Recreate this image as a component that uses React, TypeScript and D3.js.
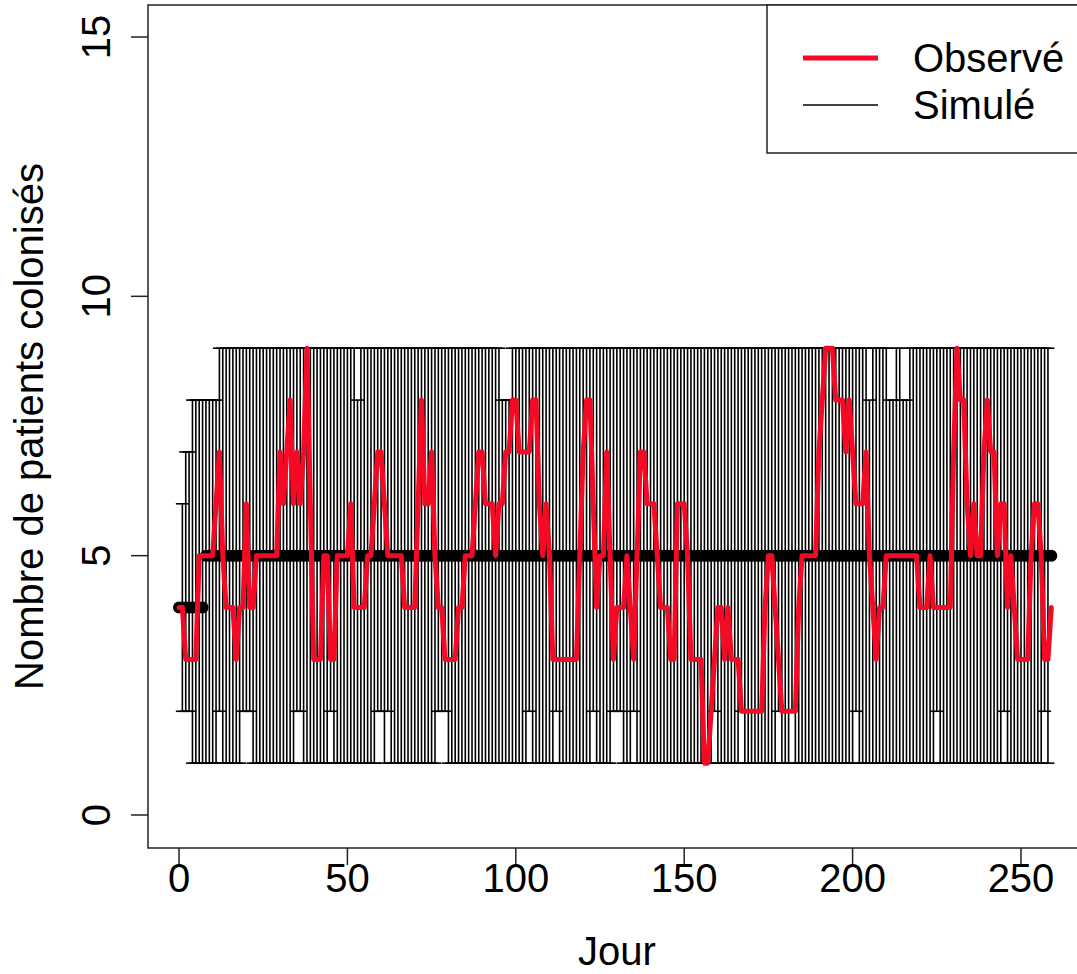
import React from "react";
import * as d3 from "d3";

// ---- Data ----
const days: number[] = d3.range(0, 260);

const observed: number[] = [
  4, 4, 3, 3, 3, 3, 5, 5, 5, 5,
  5, 6, 7, 5, 4, 4, 4, 3, 4, 4,
  6, 4, 4, 5, 5, 5, 5, 5, 5, 5,
  7, 6, 7, 8, 6, 7, 6, 7, 9, 6,
  3, 3, 3, 5, 5, 3, 3, 5, 5, 5,
  5, 6, 4, 4, 4, 4, 5, 5, 6, 7,
  7, 6, 5, 5, 5, 5, 5, 4, 4, 4,
  4, 6, 8, 6, 6, 7, 5, 4, 4, 3,
  3, 3, 3, 4, 4, 5, 5, 5, 6, 7,
  7, 6, 6, 6, 5, 6, 6, 7, 7, 8,
  8, 7, 7, 7, 7, 8, 8, 6, 5, 6,
  5, 3, 3, 3, 3, 3, 3, 3, 3, 5,
  7, 8, 8, 6, 4, 5, 5, 7, 5, 3,
  4, 4, 4, 5, 4, 3, 5, 7, 7, 6,
  6, 6, 5, 4, 4, 4, 3, 3, 6, 6,
  6, 5, 3, 3, 3, 3, 1, 1, 2, 3,
  4, 4, 3, 4, 3, 3, 3, 2, 2, 2,
  2, 2, 2, 2, 4, 5, 5, 4, 3, 2,
  2, 2, 2, 2, 4, 5, 5, 5, 5, 5,
  7, 8, 9, 9, 9, 8, 8, 8, 7, 8,
  7, 6, 6, 6, 7, 5, 4, 3, 4, 4,
  5, 5, 5, 5, 5, 5, 5, 5, 5, 5,
  4, 4, 4, 5, 4, 4, 4, 4, 4, 4,
  7, 9, 8, 8, 6, 5, 6, 5, 5, 7,
  8, 7, 7, 5, 6, 6, 4, 5, 4, 3,
  3, 3, 3, 5, 6, 6, 5, 3, 3, 4,
];

const simMedian: number[] = [
  4, 4, 4, 4, 4, 4, 4, 4, 5, 5,
  5, 5, 5, 5, 5, 5, 5, 5, 5, 5,
  5, 5, 5, 5, 5, 5, 5, 5, 5, 5,
  5, 5, 5, 5, 5, 5, 5, 5, 5, 5,
  5, 5, 5, 5, 5, 5, 5, 5, 5, 5,
  5, 5, 5, 5, 5, 5, 5, 5, 5, 5,
  5, 5, 5, 5, 5, 5, 5, 5, 5, 5,
  5, 5, 5, 5, 5, 5, 5, 5, 5, 5,
  5, 5, 5, 5, 5, 5, 5, 5, 5, 5,
  5, 5, 5, 5, 5, 5, 5, 5, 5, 5,
  5, 5, 5, 5, 5, 5, 5, 5, 5, 5,
  5, 5, 5, 5, 5, 5, 5, 5, 5, 5,
  5, 5, 5, 5, 5, 5, 5, 5, 5, 5,
  5, 5, 5, 5, 5, 5, 5, 5, 5, 5,
  5, 5, 5, 5, 5, 5, 5, 5, 5, 5,
  5, 5, 5, 5, 5, 5, 5, 5, 5, 5,
  5, 5, 5, 5, 5, 5, 5, 5, 5, 5,
  5, 5, 5, 5, 5, 5, 5, 5, 5, 5,
  5, 5, 5, 5, 5, 5, 5, 5, 5, 5,
  5, 5, 5, 5, 5, 5, 5, 5, 5, 5,
  5, 5, 5, 5, 5, 5, 5, 5, 5, 5,
  5, 5, 5, 5, 5, 5, 5, 5, 5, 5,
  5, 5, 5, 5, 5, 5, 5, 5, 5, 5,
  5, 5, 5, 5, 5, 5, 5, 5, 5, 5,
  5, 5, 5, 5, 5, 5, 5, 5, 5, 5,
  5, 5, 5, 5, 5, 5, 5, 5, 5, 5,
];

const simLow: number[] = [
  4, 2, 2, 2, 1, 1, 1, 1, 1, 1,
  1, 1, 2, 1, 1, 1, 1, 1, 1, 2,
  2, 2, 1, 1, 1, 1, 1, 1, 1, 1,
  1, 1, 1, 1, 1, 2, 2, 1, 1, 1,
  1, 1, 1, 1, 1, 2, 1, 1, 1, 1,
  1, 1, 1, 1, 1, 1, 1, 1, 1, 2,
  2, 1, 2, 1, 1, 1, 1, 1, 1, 1,
  1, 1, 1, 1, 1, 1, 1, 2, 2, 2,
  1, 1, 1, 1, 1, 1, 1, 1, 1, 1,
  1, 1, 1, 1, 1, 1, 1, 1, 1, 1,
  1, 1, 1, 1, 2, 1, 1, 1, 1, 1,
  1, 1, 2, 1, 1, 1, 1, 1, 1, 1,
  1, 1, 1, 2, 1, 1, 1, 1, 1, 2,
  2, 2, 1, 1, 1, 2, 1, 1, 1, 1,
  1, 1, 1, 1, 1, 1, 1, 1, 1, 1,
  1, 1, 1, 1, 1, 1, 1, 1, 1, 2,
  1, 1, 1, 1, 1, 1, 1, 2, 1, 1,
  1, 1, 1, 1, 1, 1, 1, 1, 2, 1,
  1, 1, 2, 1, 1, 1, 1, 1, 1, 1,
  1, 1, 1, 1, 1, 1, 1, 1, 1, 1,
  1, 2, 1, 1, 1, 1, 1, 1, 1, 1,
  1, 1, 1, 1, 1, 1, 1, 1, 1, 1,
  1, 1, 1, 1, 1, 2, 1, 1, 1, 1,
  1, 1, 1, 1, 1, 1, 1, 1, 1, 1,
  1, 1, 1, 1, 1, 2, 1, 1, 1, 1,
  1, 1, 1, 1, 1, 1, 1, 2, 1, 5,
];

const simHigh: number[] = [
  4, 6, 7, 7, 8, 8, 8, 8, 8, 8,
  8, 8, 9, 9, 9, 9, 9, 9, 9, 9,
  9, 9, 9, 9, 9, 9, 9, 9, 9, 9,
  9, 9, 9, 9, 9, 9, 9, 9, 9, 9,
  9, 9, 9, 9, 9, 9, 9, 9, 9, 9,
  9, 9, 9, 8, 9, 9, 9, 9, 9, 9,
  9, 9, 9, 9, 9, 9, 9, 9, 9, 9,
  9, 9, 9, 9, 9, 9, 9, 9, 9, 9,
  9, 9, 9, 9, 9, 9, 9, 9, 9, 9,
  9, 9, 9, 9, 9, 9, 8, 8, 8, 9,
  9, 9, 9, 9, 9, 9, 9, 9, 9, 9,
  9, 9, 9, 9, 9, 9, 9, 9, 9, 9,
  9, 9, 9, 9, 9, 9, 9, 9, 9, 9,
  9, 9, 9, 9, 9, 9, 9, 9, 9, 9,
  9, 9, 9, 9, 9, 9, 9, 9, 9, 9,
  9, 9, 9, 9, 9, 9, 9, 9, 9, 9,
  9, 9, 9, 9, 9, 9, 9, 9, 9, 9,
  9, 9, 9, 9, 9, 9, 9, 9, 9, 9,
  9, 9, 9, 9, 9, 9, 9, 9, 9, 9,
  9, 9, 9, 9, 9, 9, 9, 9, 9, 9,
  9, 9, 9, 9, 9, 8, 9, 9, 9, 9,
  9, 8, 8, 9, 9, 8, 8, 9, 9, 9,
  9, 9, 9, 9, 9, 9, 9, 9, 9, 9,
  9, 9, 9, 9, 9, 9, 9, 9, 9, 9,
  9, 9, 9, 9, 9, 9, 9, 9, 9, 9,
  9, 9, 9, 9, 9, 9, 9, 9, 9, 5,
];

const xTicks: number[] = [0, 50, 100, 150, 200, 250];
const yTicks: number[] = [0, 5, 10, 15];
const legendLabels: string[] = ["Observé", "Simulé"];
const xLabel = "Jour";
const yLabel = "Nombre de patients colonisés";

// ---- Layout ----
const W = 1077;
const H = 974;
const box = { left: 148, top: 5, right: 1086, bottom: 848 };
const FONT = "'Liberation Sans', Arial, Helvetica, sans-serif";
const FS = 40;
const RED = "#f50a26";
const CAP = 6.5;

export default function App() {
  const x = d3.scaleLinear().domain([0, 250]).range([179, 1021]);
  const y = d3.scaleLinear().domain([0, 15]).range([815, 37]);

  const lineGen = d3
    .line<number>()
    .x((_, i) => x(days[i]))
    .y((v) => y(v));

  const simIdx = days.filter((d, i) => simHigh[i] > simLow[i]);

  return (
    <svg
      width={W}
      height={H}
      style={{ position: "absolute", left: 0, top: 0, background: "#fff" }}
      fontFamily={FONT}
    >
      <rect x={0} y={0} width={W} height={H} fill="#fff" />
      {/* simulated ranges */}
      <g stroke="#000" strokeWidth={1.6} fill="none">
        {simIdx.map((d) => {
          const i = days.indexOf(d);
          const xx = x(d);
          return (
            <g key={d}>
              <line x1={xx} x2={xx} y1={y(simLow[i])} y2={y(simHigh[i])} />
              <line x1={xx - CAP} x2={xx + CAP} y1={y(simLow[i])} y2={y(simLow[i])} />
              <line x1={xx - CAP} x2={xx + CAP} y1={y(simHigh[i])} y2={y(simHigh[i])} />
            </g>
          );
        })}
      </g>
      {/* simulated medians */}
      <g fill="#000">
        {days.map((d, i) => (
          <circle key={d} cx={x(d)} cy={y(simMedian[i])} r={6} />
        ))}
      </g>
      {/* observed */}
      <path
        d={lineGen(observed) || ""}
        fill="none"
        stroke={RED}
        strokeWidth={5}
        strokeLinejoin="round"
        strokeLinecap="round"
      />
      {/* box */}
      <rect
        x={box.left}
        y={box.top}
        width={box.right - box.left}
        height={box.bottom - box.top}
        fill="none"
        stroke="#222"
        strokeWidth={1.5}
      />
      {/* x axis */}
      <g>
        {xTicks.map((t) => (
          <g key={t}>
            <line x1={x(t)} x2={x(t)} y1={box.bottom} y2={box.bottom + 17} stroke="#222" strokeWidth={1.5} />
            <text x={x(t)} y={892} fontSize={FS} textAnchor="middle" fill="#000">
              {t}
            </text>
          </g>
        ))}
      </g>
      {/* y axis */}
      <g>
        {yTicks.map((t) => (
          <g key={t}>
            <line x1={box.left - 17} x2={box.left} y1={y(t)} y2={y(t)} stroke="#222" strokeWidth={1.5} />
            <text
              transform={`translate(110,${y(t)}) rotate(-90)`}
              fontSize={FS}
              textAnchor="middle"
              fill="#000"
            >
              {t}
            </text>
          </g>
        ))}
      </g>
      <text x={(box.left + box.right) / 2} y={965} fontSize={FS} textAnchor="middle" fill="#000">
        {xLabel}
      </text>
      <text
        transform={`translate(43,${(box.top + box.bottom) / 2}) rotate(-90)`}
        fontSize={FS}
        textAnchor="middle"
        fill="#000"
      >
        {yLabel}
      </text>
      {/* legend */}
      <g>
        <rect x={767} y={box.top} width={400} height={148} fill="#fff" stroke="#222" strokeWidth={1.5} />
        <line x1={803} x2={878} y1={58} y2={58} stroke={RED} strokeWidth={5} />
        <line x1={803} x2={878} y1={105} y2={105} stroke="#000" strokeWidth={1.3} />
        <text x={913} y={72} fontSize={FS} fill="#000">
          {legendLabels[0]}
        </text>
        <text x={913} y={119} fontSize={FS} fill="#000">
          {legendLabels[1]}
        </text>
      </g>
    </svg>
  );
}
